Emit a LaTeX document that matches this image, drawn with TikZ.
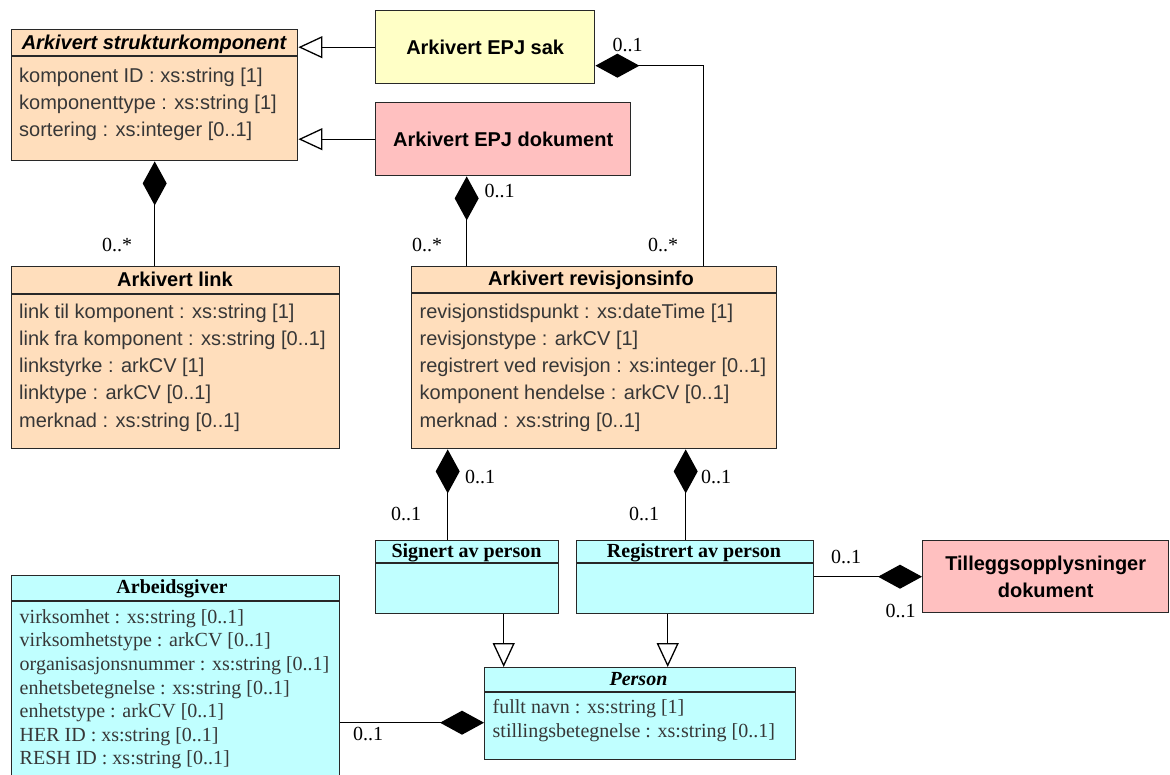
\documentclass[tikz,border=0pt]{standalone}
\usepackage{fontspec}
\setmainfont{Liberation Serif}
\setsansfont{Liberation Sans}
\usetikzlibrary{arrows.meta}
\definecolor{umloransje}{RGB}{255,222,188}
\definecolor{umlgul}{RGB}{255,255,198}
\definecolor{umlrosa}{RGB}{255,192,192}
\definecolor{umlcyan}{RGB}{192,255,255}
\definecolor{attrgra}{RGB}{55,55,55}
\definecolor{kantgra}{RGB}{40,40,40}

\begin{document}
\begin{tikzpicture}[x=1pt, y=-1pt,
    klasse/.style={draw=kantgra, line width=1.4pt, anchor=north west, inner sep=0pt},
    skille/.style={draw=kantgra, line width=1.4pt},
    tittel/.style={anchor=base, inner sep=0pt, font=\sffamily\bfseries\fontsize{20}{24}\selectfont},
    stittel/.style={anchor=base, inner sep=0pt, font=\bfseries\fontsize{20}{24}\selectfont},
    attr/.style={anchor=north west, align=left, inner sep=0pt, text=attrgra, font=\sffamily\fontsize{20}{27.3}\selectfont},
    sattr/.style={anchor=north west, align=left, inner sep=0pt, text=attrgra, font=\fontsize{20}{23.6}\selectfont},
    mult/.style={anchor=base, inner sep=0pt, font=\fontsize{20}{24}\selectfont},
    gen/.style={line width=1.3pt, -{Triangle[open, length=24pt, width=22pt, line width=1.3pt, fill=white]}},
    comp/.style={line width=1.3pt, -{Diamond[length=44pt, width=24pt]}}]
    \clip (0,0) rectangle (1170,775);

    % Arkivert strukturkomponent (abstrakt)
    \node[klasse, fill=umloransje, minimum width=286pt, minimum height=131pt] (sk) at (11,29) {};
    \draw[skille] ([yshift=-27pt]sk.north west) -- ([yshift=-27pt]sk.north east);
    \node[tittel, font=\sffamily\bfseries\itshape\fontsize{20}{24}\selectfont] (sk-navn) at (154,50) {Arkivert strukturkomponent};
    \node[attr] (sk-attr) at (19,67.4) {komponent ID : xs:string [1]\\komponenttype : xs:string [1]\\sortering : xs:integer [0..1]};

    % Sak og dokument
    \node[klasse, fill=umlgul, minimum width=219pt, minimum height=73pt, font=\sffamily\bfseries\fontsize{20}{24}\selectfont] (sak) at (375,10) {Arkivert EPJ sak};
    \node[klasse, fill=umlrosa, minimum width=255pt, minimum height=73pt, font=\sffamily\bfseries\fontsize{20}{24}\selectfont] (dok) at (375,102) {Arkivert EPJ dokument};

    % Arkivert link
    \node[klasse, fill=umloransje, minimum width=328pt, minimum height=182pt] (link) at (11,266) {};
    \draw[skille] ([yshift=-28pt]link.north west) -- ([yshift=-28pt]link.north east);
    \node[tittel] (link-navn) at (175,287) {Arkivert link};
    \node[attr] (link-attr) at (19,303.4) {link til komponent : xs:string [1]\\link fra komponent : xs:string [0..1]\\linkstyrke : arkCV [1]\\linktype : arkCV [0..1]\\merknad : xs:string [0..1]};

    % Arkivert revisjonsinfo
    \node[klasse, fill=umloransje, minimum width=365pt, minimum height=182pt] (info) at (411,266) {};
    \draw[skille] ([yshift=-27pt]info.north west) -- ([yshift=-27pt]info.north east);
    \node[tittel] (info-navn) at (591,286) {Arkivert revisjonsinfo};
    \node[attr] (info-attr) at (419.5,303.4) {revisjonstidspunkt : xs:dateTime [1]\\revisjonstype : arkCV [1]\\registrert ved revisjon : xs:integer [0..1]\\komponent hendelse : arkCV [0..1]\\merknad : xs:string [0..1]};

    % Signert / registrert av person
    \node[klasse, fill=umlcyan, minimum width=183pt, minimum height=73pt] (sig) at (375,540) {};
    \draw[skille] ([yshift=-23pt]sig.north west) -- ([yshift=-23pt]sig.north east);
    \node[stittel] (sig-navn) at (466.5,557) {Signert av person};
    \node[klasse, fill=umlcyan, minimum width=237pt, minimum height=73pt] (reg) at (576,540) {};
    \draw[skille] ([yshift=-23pt]reg.north west) -- ([yshift=-23pt]reg.north east);
    \node[stittel] (reg-navn) at (694,557) {Registrert av person};

    % Tilleggsopplysninger
    \node[klasse, fill=umlrosa, minimum width=246pt, minimum height=72pt, align=center, font=\sffamily\bfseries\fontsize{20}{27}\selectfont] (till) at (922,540) {Tilleggsopplysninger\\dokument};

    % Arbeidsgiver
    \node[klasse, fill=umlcyan, minimum width=328pt, minimum height=230pt] (arb) at (11,575) {};
    \draw[skille] ([yshift=-26pt]arb.north west) -- ([yshift=-26pt]arb.north east);
    \node[stittel] (arb-navn) at (172,593) {Arbeidsgiver};
    \node[sattr] (arb-attr) at (19.5,609.3) {virksomhet : xs:string [0..1]\\virksomhetstype : arkCV [0..1]\\organisasjonsnummer : xs:string [0..1]\\enhetsbetegnelse : xs:string [0..1]\\enhetstype : arkCV [0..1]\\HER ID : xs:string [0..1]\\RESH ID : xs:string [0..1]};

    % Person (abstrakt)
    \node[klasse, fill=umlcyan, minimum width=311pt, minimum height=92pt] (per) at (484,667) {};
    \draw[skille] ([yshift=-25pt]per.north west) -- ([yshift=-25pt]per.north east);
    \node[stittel, font=\bfseries\itshape\fontsize{20}{24}\selectfont] (per-navn) at (638.5,685) {Person};
    \node[sattr] (per-attr) at (492.5,699.3) {fullt navn : xs:string [1]\\stillingsbetegnelse : xs:string [0..1]};

    % Arv
    \draw[gen] (sak) -- (sak -| sk.east);
    \draw[gen] (dok) -- (dok -| sk.east);
    \path ([xshift=36.5pt]sig.south) coordinate (sig-ned);
    \path ([xshift=-27.5pt]reg.south) coordinate (reg-ned);
    \draw[gen] (sig-ned) -- (sig-ned |- per.north);
    \draw[gen] (reg-ned) -- (reg-ned |- per.north);

    % Komposisjoner
    \draw[comp] (link.north -| sk.south) -- (sk.south);
    \path ([xshift=-36.5pt]dok.south) coordinate (dok-port);
    \draw[comp] (dok-port |- info.north) -- (dok-port);
    \path ([yshift=-18.5pt]sak.east) coordinate (sak-port);
    \path ([xshift=109.5pt]info.north) coordinate (info-port);
    \draw[comp] (info-port) |- (sak-port);
    \path ([xshift=-19.5pt]sig.north) coordinate (sig-port);
    \draw[comp] (sig-port) -- (sig-port |- info.south);
    \path ([xshift=-9.5pt]reg.north) coordinate (reg-port);
    \draw[comp] (reg-port) -- (reg-port |- info.south);
    \draw[comp] (reg.east |- till.west) -- (till.west);
    \path ([yshift=-9pt]per.west) coordinate (per-port);
    \draw[comp] (arb.east |- per-port) -- (per-port);

    % Multiplisiteter
    \node[mult] (m1) at (117,252) {0..*};
    \node[mult] (m2) at (627.5,52) {0..1};
    \node[mult] (m3) at (499.5,198) {0..1};
    \node[mult] (m4) at (427,252) {0..*};
    \node[mult] (m5) at (663,252) {0..*};
    \node[mult] (m6) at (480,483) {0..1};
    \node[mult] (m7) at (406,520) {0..1};
    \node[mult] (m8) at (716,483) {0..1};
    \node[mult] (m9) at (644,520) {0..1};
    \node[mult] (m10) at (846,563) {0..1};
    \node[mult] (m11) at (900.5,617) {0..1};
    \node[mult] (m12) at (368,740) {0..1};
\end{tikzpicture}
\end{document}
